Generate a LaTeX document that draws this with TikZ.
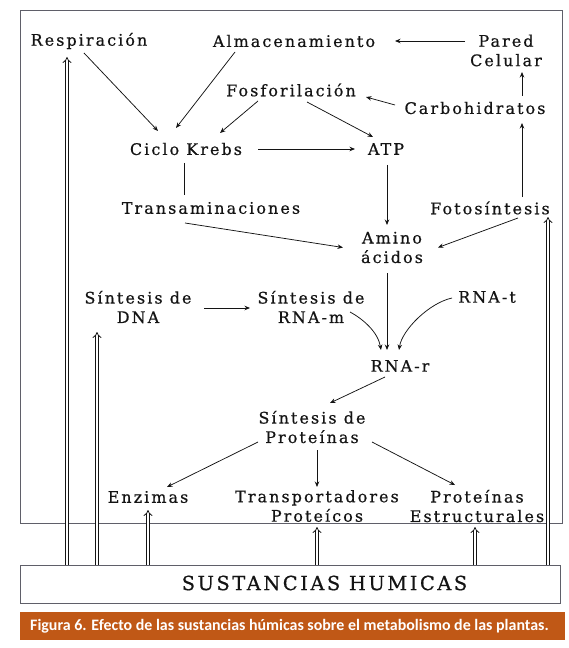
\documentclass[tikz,border=0pt]{standalone}
\usepackage{fontspec}
\usetikzlibrary{arrows.meta,calc}
\newfontfamily\diagfont[LetterSpace=13,FakeBold=0.6]{DejaVu Serif}
\newfontfamily\capfont{Carlito}
\definecolor{capc}{RGB}{192,88,22}
\definecolor{ink}{RGB}{20,20,20}
\definecolor{framec}{RGB}{95,95,105}
\begin{document}
\begin{tikzpicture}[x=1bp,y=-1bp,
  lbl/.style={inner sep=0pt,text=ink,font=\diagfont\fontsize{16}{19.5}\selectfont,align=center},
  arr/.style={draw=ink,line width=0.75bp,-{Stealth[length=5.5bp,width=4.5bp]}},
  plain/.style={draw=ink,line width=0.75bp},
  dbl/.style={draw=ink,line width=0.8bp,double,double distance=2.2bp,-{Implies[length=4bp]}},
  frame/.style={draw=framec,line width=0.7bp}]
\useasboundingbox (0,0) rectangle (569,648);
% frame
\draw[frame] (20,10) rectangle (562,523);
% nodes
\node[lbl] (resp) at (89,41) {Respiración};
\node[lbl] (alm) at (294,41) {Almacenamiento};
\node[lbl] (pared) at (506,50.5) {Pared\\Celular};
\node[lbl] (fosf) at (291,90) {Fosforilación};
\node[lbl] (carb) at (475,108) {Carbohidratos};
\node[lbl] (krebs) at (186,149) {Ciclo Krebs};
\node[lbl] (atp) at (386,149) {ATP};
\node[lbl] (trans) at (211,208) {Transaminaciones};
\node[lbl] (foto) at (490,208) {Fotosíntesis};
\node[lbl] (amino) at (392,247.5) {Amino\\ácidos};
\node[lbl] (dna) at (138,307) {Síntesis de\\DNA};
\node[lbl] (rnam) at (311,307) {Síntesis de\\RNA-m};
\node[lbl] (rnat) at (487,297) {RNA-t};
\node[lbl] (rnar) at (400,366) {RNA-r};
\node[lbl] (prot) at (312,427) {Síntesis de\\Proteínas};
\node[lbl] (enz) at (148,497) {Enzimas};
\node[lbl] (tprot) at (317,506) {Transportadores\\Proteícos};
\node[lbl] (estr) at (477,506) {Proteínas\\Estructurales};
% humic box
\node[draw=framec,line width=0.7bp,fill=white,minimum width=540bp,minimum height=38bp,inner sep=0pt] (sh) at (290,584) {};
\node[inner sep=0pt,text=ink,font=\diagfont\fontsize{19.5}{22}\selectfont] (shtext) at (324.5,583) {SUSTANCIAS HUMICAS};
% caption
\node[fill=capc,minimum width=545bp,minimum height=28bp,inner sep=0pt] (cap) at (292.5,626) {};
\node[anchor=west,inner sep=0pt,text=white,font=\capfont\bfseries\fontsize{16}{18}\selectfont] (captext) at (30,626) {Figura 6. Efecto de las sustancias húmicas sobre el metabolismo de las plantas.};
% connectors
\draw[arr] ($(resp)+(-5,12)$) -- ($(krebs)+(-28,-18)$);
\draw[arr] ($(alm)+(-59,11)$) -- ($(krebs)+(-10,-21)$);
\draw[arr] ($(fosf)+(-33,11)$) -- ($(krebs)+(34,-16)$);
\draw[arr] ($(fosf)+(16,12)$) -- ($(atp)+(-13,-12)$);
\draw[arr] ($(pared)+(-41,-9.5)$) -- ($(alm)+(101,0)$);
\draw[arr] ($(carb)+(-80,-3)$) -- ($(fosf)+(75,7)$);
\draw[arr] ($(carb)+(47,-12)$) -- ($(pared)+(16,21.5)$);
\draw[arr] ($(krebs)+(72,0)$) -- ($(atp)+(-31,0)$);
\draw[plain] ($(krebs)+(-2,14)$) -- ($(trans)+(-27,-13)$);
\draw[arr] ($(trans)+(-26,15)$) -- ($(amino)+(-49,0)$);
\draw[arr] ($(atp)+(1,16)$) -- ($(amino)+(-5,-22.5)$);
\draw[arr] ($(foto)+(32,-11)$) -- ($(carb)+(47,15)$);
\draw[arr] ($(foto)+(28,10)$) -- ($(amino)+(46,0)$);
\draw[arr] ($(amino)+(-5,25.5)$) -- ($(rnar)+(-13,-16)$);
\draw[arr] ($(dna)+(66,1)$) -- ($(rnam)+(-61,1)$);
\draw[arr] ($(rnam)+(39,5)$) .. controls ($(rnam)+(52,12)$) and ($(rnar)+(-22,-34)$) .. ($(rnar)+(-19,-16)$);
\draw[arr] ($(rnat)+(-35,1)$) .. controls ($(rnat)+(-58,6)$) and ($(rnar)+(2,-36)$) .. ($(rnar)+(-1,-16)$);
\draw[arr] ($(rnar)+(-15,11)$) -- ($(prot)+(18,-24)$);
\draw[arr] ($(prot)+(-54,15)$) -- ($(enz)+(19,-10)$);
\draw[arr] ($(prot)+(5,23)$) -- ($(tprot)+(0,-19)$);
\draw[arr] ($(prot)+(60,15)$) -- ($(estr)+(-22,-21)$);
% double arrows from humic substances
\coordinate (d1) at ($(resp)+(-22,16)$);
\coordinate (d2) at ($(dna)+(-41,25)$);
\coordinate (d3) at ($(enz)+(0,13)$);
\coordinate (d4) at ($(tprot)+(0,21)$);
\coordinate (d5) at ($(estr)+(-2,21)$);
\coordinate (d6) at ($(foto)+(58,9)$);
\foreach \d in {d1,d2,d3,d4,d5,d6}{
  \draw[dbl] (\d |- sh.north) -- (\d);
}
\end{tikzpicture}
\end{document}
